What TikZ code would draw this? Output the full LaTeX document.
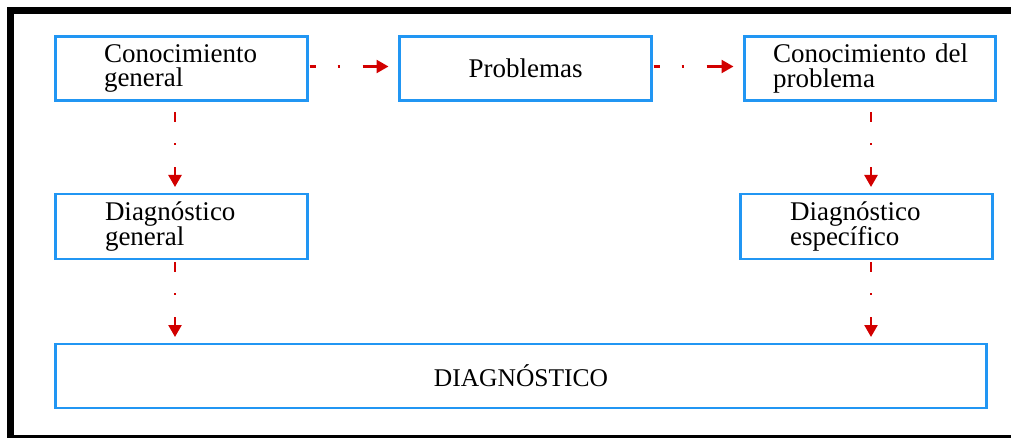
\documentclass[tikz,border=0pt]{standalone}
\usepackage{fontspec}
\setmainfont{Liberation Serif}
\usetikzlibrary{arrows.meta}
\definecolor{boxblue}{RGB}{33,150,243}
\definecolor{arrred}{RGB}{210,0,0}
\begin{document}
\begin{tikzpicture}[x=1pt,y=-1pt,
  box/.style={draw=boxblue, line width=2.4pt, rectangle, outer sep=0pt,
    minimum height=64pt, inner ysep=2pt, font=\fontsize{27}{24.5}\selectfont, align=left},
  flowh/.style={draw=arrred, line width=2.4pt, -{Triangle[length=12pt,width=13pt]},
    dash pattern=on 6pt off 22pt on 2pt off 23pt on 60pt},
  flowv/.style={draw=arrred, line width=2.4pt, -{Triangle[length=12pt,width=13pt]},
    dash pattern=on 10pt off 21pt on 2pt off 22pt on 60pt},
  frame/.style={draw=black, line width=7pt}
]
\useasboundingbox (0,0) rectangle (1011,438);
\clip (0,0) rectangle (1011,438);
\fill[white] (0,0) rectangle (1011,438);
\draw[frame] (1030,10.5) -- (10.5,10.5) -- (10.5,438.5) -- (1030,438.5);

\node[box, inner xsep=48.5pt, text width=155pt] (cg) at (181.5,68.5) {Conocimiento\\general};
\node[box, inner xsep=26pt, text width=200pt, align=center] (pr) at (525.5,68.5) {Problemas};
\node[box, inner xsep=28.5pt, text width=194pt] (ck) at (870,68.5) {\mbox{Conocimiento del}\\problema};
\node[box, inner xsep=49.5pt, text width=153pt, minimum height=65pt] (dg) at (181.5,226.5) {Diagnóstico\\general};
\node[box, inner xsep=49.5pt, text width=153pt, minimum height=65pt] (ds) at (866.5,226.5) {Diagnóstico\\específico};
\node[box, inner xsep=20pt, text width=891pt, align=center, font=\fontsize{25.5}{24}\selectfont] (dx) at (521,376) {DIAGNÓSTICO};

\draw[flowh] ([xshift=2pt,yshift=2pt]cg.east) -- ([xshift=-11pt,yshift=2pt]pr.west);
\draw[flowh] ([xshift=2pt,yshift=2pt]pr.east) -- ([xshift=-11pt,yshift=2pt]ck.west);
\draw[flowv] ([xshift=-6.5pt,yshift=-12pt]cg.south) -- ([xshift=-6.5pt,yshift=7pt]dg.north);
\draw[flowv] ([xshift=1pt,yshift=-12pt]ck.south) -- ([xshift=4.5pt,yshift=7pt]ds.north);
\coordinate (l1) at ([xshift=-6.5pt,yshift=-3pt]dg.south);
\coordinate (r1) at ([xshift=4.5pt,yshift=-3pt]ds.south);
\coordinate (l2) at ([yshift=7pt]dx.north);
\draw[flowv] (l1) -- (l1 |- l2);
\draw[flowv] (r1) -- (r1 |- l2);
\end{tikzpicture}
\end{document}
